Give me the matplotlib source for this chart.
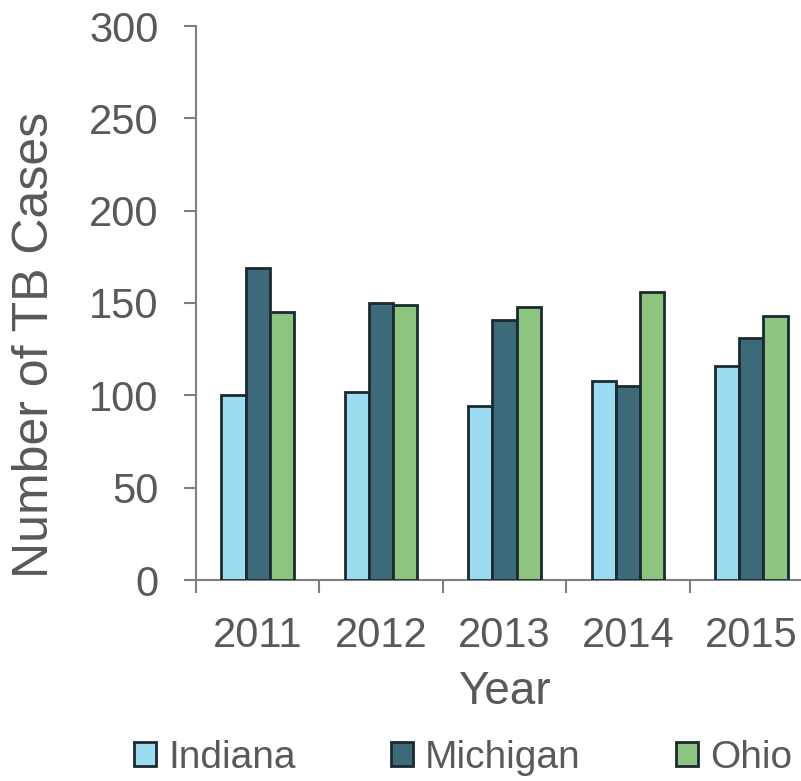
import matplotlib.pyplot as plt
import numpy as np

# data
years = ['2011', '2012', '2013', '2014', '2015']
indiana = [100, 102, 94, 108, 116]
michigan = [169, 150, 141, 105, 131]
ohio = [145, 149, 148, 156, 143]

series = [('Indiana', indiana, '#9bdcf1'),
          ('Michigan', michigan, '#3c6a78'),
          ('Ohio', ohio, '#8dc47f')]

plt.rcParams['font.family'] = ['Liberation Sans', 'DejaVu Sans']
TEXT = '#595959'
AXIS = '#7f7f7f'
EDGE = '#1b2a31'

fig = plt.figure(figsize=(8.01, 7.81), dpi=100)
W, H = 801, 781
# axes box in pixels: left 196, right 813 (past the edge), bottom 580, top 26
ax = fig.add_axes([196 / W, (H - 580) / H, (813 - 196) / W, (580 - 26) / H])

x = np.arange(len(years))
bw = 0.196
for i, (name, vals, col) in enumerate(series):
    ax.bar(x + (i - 1) * bw, vals, width=bw, color=col, edgecolor=EDGE,
           linewidth=2.0, label=name, zorder=3)

ax.set_xlim(-0.5, 4.5)
ax.set_ylim(0, 300)
ax.set_yticks(range(0, 301, 50))
ax.set_xticks(x)
ax.set_xticklabels(years)
ax.set_xticks(np.arange(-0.5, 5, 1), minor=True)

for s in ['top', 'right']:
    ax.spines[s].set_visible(False)
for s in ['left', 'bottom']:
    ax.spines[s].set_color(AXIS)
    ax.spines[s].set_linewidth(1.5)

ax.tick_params(axis='y', direction='out', length=9, width=1.5, color=AXIS,
               labelsize=30, labelcolor=TEXT, pad=18)
ax.tick_params(axis='x', which='major', length=0, labelsize=30,
               labelcolor=TEXT, pad=26)
ax.tick_params(axis='x', which='minor', direction='out', length=9,
               width=1.5, color=AXIS)

fig.text(35 / W, 1 - 345 / H, 'Number of TB Cases', rotation=90,
         ha='center', va='center', fontsize=36, color=TEXT)
fig.text(504 / W, 1 - 692 / H, 'Year', ha='center', va='center',
         fontsize=33, color=TEXT)

fig.legend(loc='center', bbox_to_anchor=(463 / W, 1 - 758 / H), ncol=3,
           frameon=False, fontsize=28, labelcolor=TEXT, handlelength=0.57,
           handleheight=0.57, handletextpad=0.31, columnspacing=2.45,
           borderpad=0)

fig.savefig('out.png', dpi=100)
